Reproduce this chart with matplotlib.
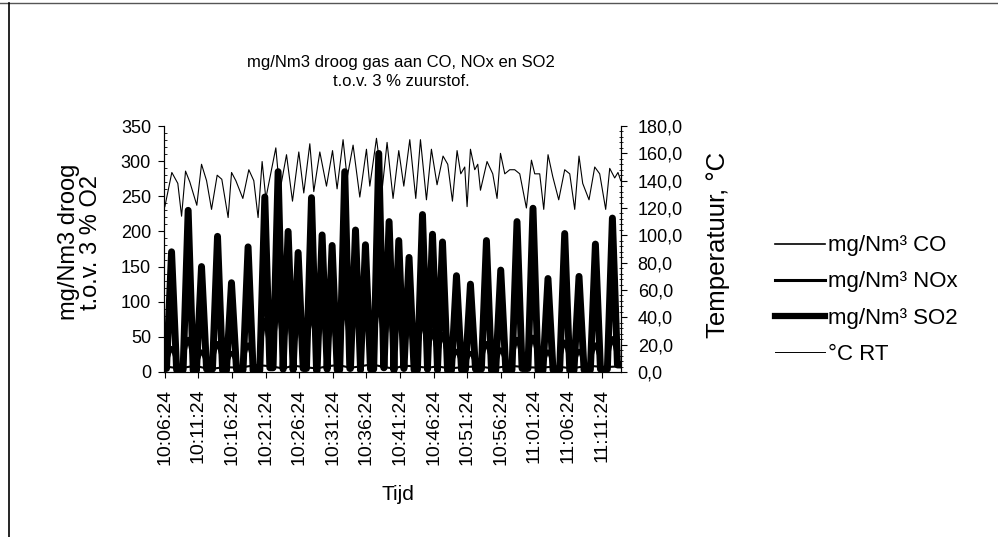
import numpy as np
import matplotlib.pyplot as plt
from matplotlib.lines import Line2D
from matplotlib.ticker import MultipleLocator, FuncFormatter

plt.rcParams['font.family'] = ['Liberation Sans', 'DejaVu Sans']

# time axis: minutes after 10:06:24
tick_pos = [0, 5, 10, 15, 20, 25, 30, 35, 40, 45, 50, 55, 60, 65]
tick_labels = ['10:06:24', '10:11:24', '10:16:24', '10:21:24', '10:26:24',
               '10:31:24', '10:36:24', '10:41:24', '10:46:24', '10:51:24',
               '10:56:24', '11:01:24', '11:06:24', '11:11:24']

# SO2 peaks (mg/Nm3) and the low level between them
so2_peak_t = [1.0, 3.47, 5.46, 7.84, 9.92, 12.39, 14.88, 16.86, 18.35, 19.84,
              21.83, 23.41, 24.9, 26.78, 28.38, 29.86, 31.84, 33.38, 34.82, 36.35,
              38.35, 39.84, 41.33, 43.41, 45.49, 47.87, 50.0, 52.42, 54.8, 57.03,
              59.52, 61.65, 64.09, 66.62]
so2_peak = [171, 230, 150, 193, 127, 178, 249, 285, 200, 170,
            248, 195, 180, 285, 202, 181, 311, 214, 187, 163,
            224, 196, 185, 137, 125, 187, 145, 214, 233, 133,
            197, 136, 182, 219]
so2_low = [5, 3, 2, 4, 2, 3, 2, 6, 4, 3, 5, 2, 4, 3, 5, 3, 4, 6, 3, 5,
           3, 4, 3, 2, 3, 4, 2, 3, 5, 2, 3, 2, 3, 4, 10]

# NOx peaks at the same moments, CO near zero
nox_peak = [35, 48, 30, 42, 28, 40, 75, 90, 80, 70, 85, 80, 75, 95, 85, 80, 100,
            85, 80, 70, 75, 60, 55, 31, 28, 42, 33, 48, 51, 30, 44, 31, 40, 49]
nox_low = [4, 6, 3, 5, 4, 6, 5, 8, 6, 4, 7, 5, 6, 5, 7, 4, 6, 8, 5, 6,
           4, 5, 6, 4, 5, 6, 4, 5, 7, 4, 5, 4, 6, 5, 8]
co_t = [0.0, 2.2, 4.5, 6.6, 8.9, 11.1, 13.6, 15.9, 17.6, 19.1,
        20.8, 22.6, 24.1, 25.8, 27.6, 29.1, 30.8, 32.6, 34.1, 35.6,
        37.3, 39.1, 40.6, 42.4, 44.4, 46.7, 48.9, 51.2, 53.6, 55.9,
        58.3, 60.6, 62.9, 65.4, 67.9]
co_val = [8, 5, 9, 4, 7, 6, 10, 8, 5, 9, 7, 5, 8, 10, 6, 8, 11, 7,
          5, 9, 8, 6, 8, 5, 7, 8, 5, 9, 7, 6, 8, 5, 9, 7, 8]

# room temperature (deg C)
temp_t = [0.0, 1.04, 1.93, 2.49, 3.08, 3.72, 4.76, 5.46, 6.21, 6.95,
          7.79, 8.48, 9.42, 9.93, 10.57, 11.61, 12.5, 13.24, 13.88, 14.48,
          15.03, 16.52, 17.11, 18.11, 19.0, 19.94, 20.68, 21.58, 22.17, 23.07,
          24.06, 24.96, 25.64, 26.53, 27.13, 28.02, 29.02, 30.01, 30.51, 31.5,
          32.4, 33.08, 33.97, 34.82, 35.57, 36.46, 37.35, 38.05, 38.94, 39.68,
          40.52, 41.41, 42.11, 42.81, 43.5, 44.05, 44.64, 44.99, 45.49, 46.13,
          46.58, 46.98, 47.96, 48.81, 49.45, 49.96, 50.6, 51.34, 52.08, 52.83,
          53.82, 54.57, 55.06, 55.8, 56.4, 57.04, 57.74, 58.63, 59.52, 60.27,
          61.01, 61.65, 62.2, 63.14, 63.99, 64.73, 65.62, 66.22, 66.96, 67.45,
          67.86]
temp = [121, 146, 138, 114, 147, 139, 122, 152, 140, 119,
        144, 141, 113, 146, 140, 127, 148, 140, 113, 154,
        127, 164, 132, 159, 125, 161, 131, 167, 132, 161,
        136, 162, 134, 170, 142, 166, 128, 163, 136, 171,
        136, 168, 127, 162, 136, 170, 127, 170, 126, 163,
        137, 158, 152, 125, 162, 145, 150, 121, 163, 148,
        152, 133, 154, 145, 127, 160, 145, 148, 148, 145,
        120, 155, 145, 145, 119, 159, 143, 126, 148, 145,
        119, 158, 138, 126, 150, 145, 119, 149, 142, 146,
        140]


def pulses(peak_t, peak, low, half_w, t_end):
    # short spikes: low level, up to the peak, back down
    t, v = [0.0], [low[0]]
    for i, (tp, vp) in enumerate(zip(peak_t, peak)):
        t += [tp - half_w, tp, tp + half_w]
        v += [low[i], vp, low[i + 1]]
    t.append(t_end)
    v.append(low[-1])
    return t, v


fig = plt.figure(figsize=(9.98, 5.37), dpi=100)
ax = fig.add_axes([163.5 / 998, 1 - 372 / 537, (621 - 163.5) / 998, 246 / 537])

ax.plot(co_t, co_val, color='black', lw=1.5)
t, v = pulses(so2_peak_t, nox_peak, nox_low, 1.0, 67.9)
ax.plot(t, v, color='black', lw=2.2)
t, v = pulses(so2_peak_t, so2_peak, so2_low, 0.75, 67.9)
ax.plot(t, v, color='black', lw=5.0, solid_joinstyle='round')

ax.set_xlim(-0.2, 67.9)
ax.set_ylim(0, 350)
ax.yaxis.set_major_locator(MultipleLocator(50))
ax.yaxis.set_minor_locator(MultipleLocator(10))
ax.set_xticks(tick_pos)
ax.set_xticklabels(tick_labels, rotation=90, fontsize=14)
ax.tick_params(axis='y', labelsize=13, length=4, pad=5)
ax.tick_params(axis='y', which='minor', direction='in', length=2)
ax.tick_params(axis='x', length=4, pad=8)
ax.spines['top'].set_visible(False)

ax2 = ax.twinx()
ax2.plot(temp_t, temp, color='black', lw=0.8)
ax2.set_ylim(0, 180)
ax2.yaxis.set_major_locator(MultipleLocator(20))
ax2.yaxis.set_minor_locator(MultipleLocator(4))
ax2.yaxis.set_major_formatter(FuncFormatter(lambda y, p: f'{y:.1f}'.replace('.', ',')))
ax2.tick_params(axis='y', labelsize=13, length=4, pad=8)
ax2.tick_params(axis='y', which='minor', direction='inout', length=3)
ax2.spines['top'].set_visible(False)

fig.text(401 / 998, 1 - 72 / 537, 'mg/Nm3 droog gas aan CO, NOx en SO2\nt.o.v. 3 % zuurstof.',
         ha='center', va='center', fontsize=12, linespacing=1.25)
fig.text(80 / 998, 1 - 242 / 537, 'mg/Nm3 droog\nt.o.v. 3 % O2', rotation=90,
         ha='center', va='center', fontsize=17, linespacing=1.0)
fig.text(718 / 998, 1 - 245 / 537, 'Temperatuur, °C', rotation=90,
         ha='center', va='center', fontsize=18.5)
fig.text(398 / 998, 1 - 494 / 537, 'Tijd', ha='center', va='center', fontsize=15)

handles = [Line2D([], [], color='black', lw=1.2),
           Line2D([], [], color='black', lw=2.2),
           Line2D([], [], color='black', lw=4.5),
           Line2D([], [], color='black', lw=0.7)]
labels = ['mg/Nm³ CO', 'mg/Nm³ NOx', 'mg/Nm³ SO2', '°C RT']
fig.legend(handles, labels, loc='center left', bbox_to_anchor=(775 / 998, 1 - 300 / 537),
           frameon=False, fontsize=16, handlelength=2.25, handletextpad=0.14,
           borderpad=0, borderaxespad=0, labelspacing=0.68)

# chart frame (scanned page: top and left edges visible)
fig.add_artist(Line2D([0, 1], [1 - 3 / 537, 1 - 3 / 537], transform=fig.transFigure,
                      color='#555555', lw=1.0))
fig.add_artist(Line2D([9 / 998, 9 / 998], [0, 1 - 3 / 537], transform=fig.transFigure,
                      color='black', lw=1.2))

fig.savefig('out.png', dpi=100)
